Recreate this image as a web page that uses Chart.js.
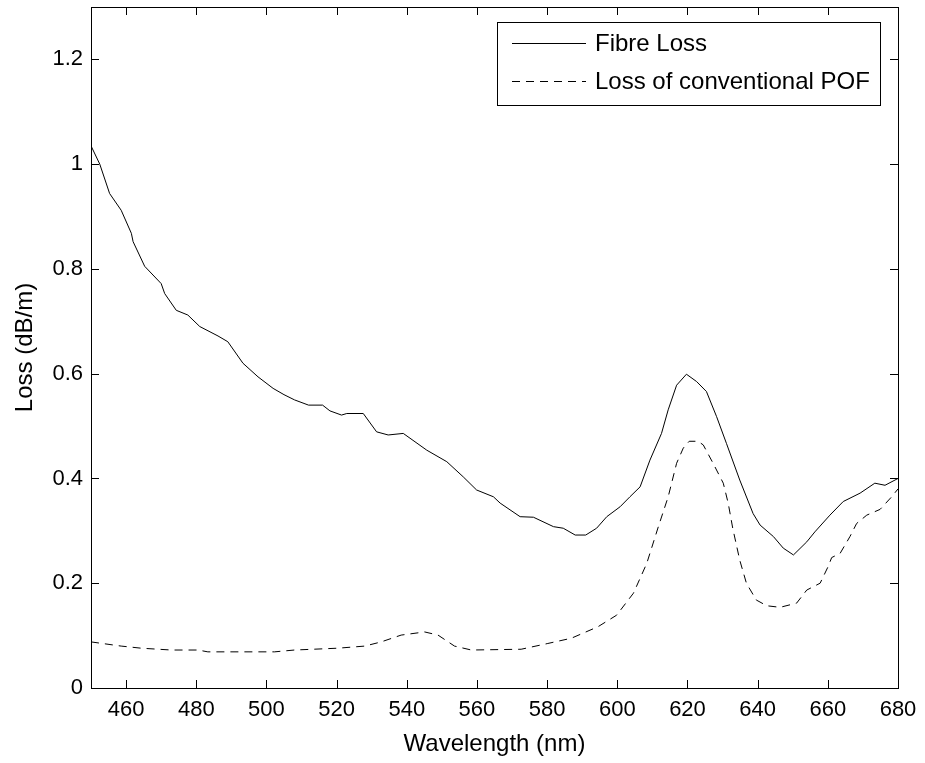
<!DOCTYPE html>
<html>
<head>
<meta charset="utf-8">
<script src="https://cdn.jsdelivr.net/npm/chart.js@4"></script>
<style>
  html, body { margin: 0; padding: 0; background: #fff; }
  #wrap { width: 925px; height: 763px; }
</style>
</head>
<body>
<div id="wrap"><canvas id="chart" width="925" height="763"></canvas></div>
<script>
// measured fibre loss (dB/m) vs wavelength (nm)
const fibreWl = [450, 452.5, 455.3, 458.6, 461.5, 462, 465.3, 470, 471, 474.3, 477.6, 481, 486.2, 489, 493.3,
  497.6, 501.9, 505, 508, 512, 516, 518.1, 521.4, 522.9, 527.6, 531.4, 534.7, 539, 545.7, 551.4, 556.1, 559.9,
  564.7, 566.6, 572.3, 576.1, 581.8, 584.6, 588, 591, 594.1, 597, 600.8, 603.6, 606.5, 609.3, 612.6, 614.5,
  616.9, 619.7, 622.6, 625.4, 628.3, 631.1, 634.9, 638.7, 640.7, 644.5, 647.3, 650.2, 654, 656.3, 660.6,
  664.4, 669.2, 673.4, 676.3, 680];
const fibreLoss = [1.035, 1.0, 0.944, 0.912, 0.868, 0.852, 0.805, 0.772, 0.753, 0.721, 0.712, 0.690, 0.672, 0.661, 0.620,
  0.594, 0.572, 0.56, 0.55, 0.54, 0.54, 0.529, 0.521, 0.524, 0.524, 0.489, 0.483, 0.486, 0.454, 0.432, 0.403, 0.378,
  0.365, 0.353, 0.327, 0.326, 0.308, 0.305, 0.292, 0.292, 0.305, 0.327, 0.346, 0.365, 0.384, 0.435, 0.486, 0.531,
  0.578, 0.599, 0.585, 0.566, 0.518, 0.467, 0.397, 0.333, 0.311, 0.289, 0.267, 0.254, 0.279, 0.298, 0.330,
  0.356, 0.372, 0.391, 0.387, 0.40];

// loss of conventional POF
const pofWl = [450, 458.6, 464.3, 472.9, 480.5, 483.3, 496.6, 502.3, 508, 520.4, 528, 532.7, 538.4, 545.1, 548.9,
  553.6, 558.4, 572.6, 580.2, 586.9, 594.5, 599.8, 604.6, 608.4, 611.7, 614.5, 616.9, 618.8, 620.5, 623, 624.5,
  627.3, 630.2, 631.6, 632.9, 634.9, 636.8, 639.6, 642.6, 646.4, 651.1, 654, 657.8, 660.1, 661.1, 663.5, 666.3,
  668.2, 671.1, 674.9, 678.2, 680];
const pofLoss = [0.088, 0.080, 0.076, 0.0725, 0.0725, 0.069, 0.069, 0.069, 0.0725, 0.076, 0.080, 0.088, 0.101, 0.107, 0.101,
  0.080, 0.0725, 0.074, 0.085, 0.095, 0.117, 0.139, 0.181, 0.238, 0.308, 0.365, 0.429, 0.458, 0.471, 0.471, 0.464,
  0.429, 0.391, 0.353, 0.305, 0.244, 0.2, 0.168, 0.157, 0.154, 0.162, 0.187, 0.20, 0.232, 0.249, 0.257, 0.289,
  0.314, 0.330, 0.341, 0.365, 0.38];

const xTicks = [460, 480, 500, 520, 540, 560, 580, 600, 620, 640, 660, 680];
const yTicks = [0, 0.2, 0.4, 0.6, 0.8, 1, 1.2];
const seriesNames = ["Fibre Loss", "Loss of conventional POF"];

const toPoints = (xs, ys) => xs.map((x, i) => ({ x: x, y: ys[i] }));

const FONT = "'Liberation Sans', Arial, sans-serif";
Chart.defaults.font.family = FONT;
Chart.defaults.font.size = 22;
Chart.defaults.color = "#000";

const DASH = [8, 6];

// MATLAB style box with inward ticks on all four sides, plus the boxed legend
const boxTicks = {
  id: "boxTicks",
  afterDraw(chart) {
    const { ctx, chartArea: a, scales } = chart;
    const len = 8;
    ctx.save();
    ctx.strokeStyle = "#000";
    ctx.lineWidth = 1;
    ctx.beginPath();
    scales.x.ticks.forEach((t) => {
      const px = Math.round(scales.x.getPixelForValue(t.value)) + 0.5;
      ctx.moveTo(px, a.bottom); ctx.lineTo(px, a.bottom - len);
      ctx.moveTo(px, a.top); ctx.lineTo(px, a.top + len);
    });
    scales.y.ticks.forEach((t) => {
      const py = Math.round(scales.y.getPixelForValue(t.value)) + 0.5;
      ctx.moveTo(a.left, py); ctx.lineTo(a.left + len, py);
      ctx.moveTo(a.right, py); ctx.lineTo(a.right - len, py);
    });
    ctx.stroke();
    ctx.strokeRect(Math.round(a.left) + 0.5, Math.round(a.top) + 0.5,
      Math.round(a.right - a.left), Math.round(a.bottom - a.top));

    const lx = 497, ly = 22, lw = 383, lh = 83;
    ctx.fillStyle = "#fff";
    ctx.fillRect(lx, ly, lw, lh);
    ctx.strokeRect(lx + 0.5, ly + 0.5, lw, lh);
    const rows = [43.5, 81.5];
    ctx.font = "24px " + FONT;
    ctx.textBaseline = "middle";
    ctx.fillStyle = "#000";
    chart.data.datasets.forEach((ds, i) => {
      ctx.beginPath();
      ctx.setLineDash(ds.borderDash || []);
      ctx.moveTo(512, rows[i]); ctx.lineTo(586, rows[i]);
      ctx.stroke();
      ctx.setLineDash([]);
      ctx.fillText(ds.label, 595, rows[i] + 1);
    });
    ctx.restore();
  }
};

new Chart(document.getElementById("chart"), {
  type: "line",
  data: {
    datasets: [
      {
        label: seriesNames[0],
        data: toPoints(fibreWl, fibreLoss),
        borderColor: "#000",
        borderWidth: 1,
        pointRadius: 0,
        tension: 0,
      },
      {
        label: seriesNames[1],
        data: toPoints(pofWl, pofLoss),
        borderColor: "#000",
        borderWidth: 1,
        borderDash: DASH,
        pointRadius: 0,
        tension: 0,
      },
    ],
  },
  options: {
    responsive: false,
    animation: false,
    layout: { padding: { top: 7, right: 27, left: 0, bottom: 0 } },
    plugins: { legend: { display: false }, tooltip: { enabled: false } },
    scales: {
      x: {
        type: "linear",
        min: 450,
        max: 680,
        grid: { display: false, drawTicks: false },
        border: { display: false },
        ticks: { padding: 9, maxRotation: 0, autoSkip: false, callback: (v) => String(v) },
        afterBuildTicks: (s) => { s.ticks = xTicks.map((v) => ({ value: v })); },
        afterFit: (s) => { s.height = 75; s.paddingLeft = 0; s.paddingRight = 0; },
        title: { display: true, text: "Wavelength (nm)", font: { size: 24 }, padding: { top: 0, bottom: 4 } },
      },
      y: {
        type: "linear",
        min: 0,
        max: 1.3,
        grid: { display: false, drawTicks: false },
        border: { display: false },
        ticks: { padding: 8, autoSkip: false, callback: (v) => String(v) },
        afterBuildTicks: (s) => { s.ticks = yTicks.map((v) => ({ value: v })); },
        afterFit: (s) => { s.width = 91; s.paddingTop = 0; s.paddingBottom = 0; },
        title: { display: true, text: "Loss (dB/m)", font: { size: 24 }, padding: { top: 11, bottom: 0 } },
      },
    },
  },
  plugins: [boxTicks],
});
</script>
</body>
</html>
